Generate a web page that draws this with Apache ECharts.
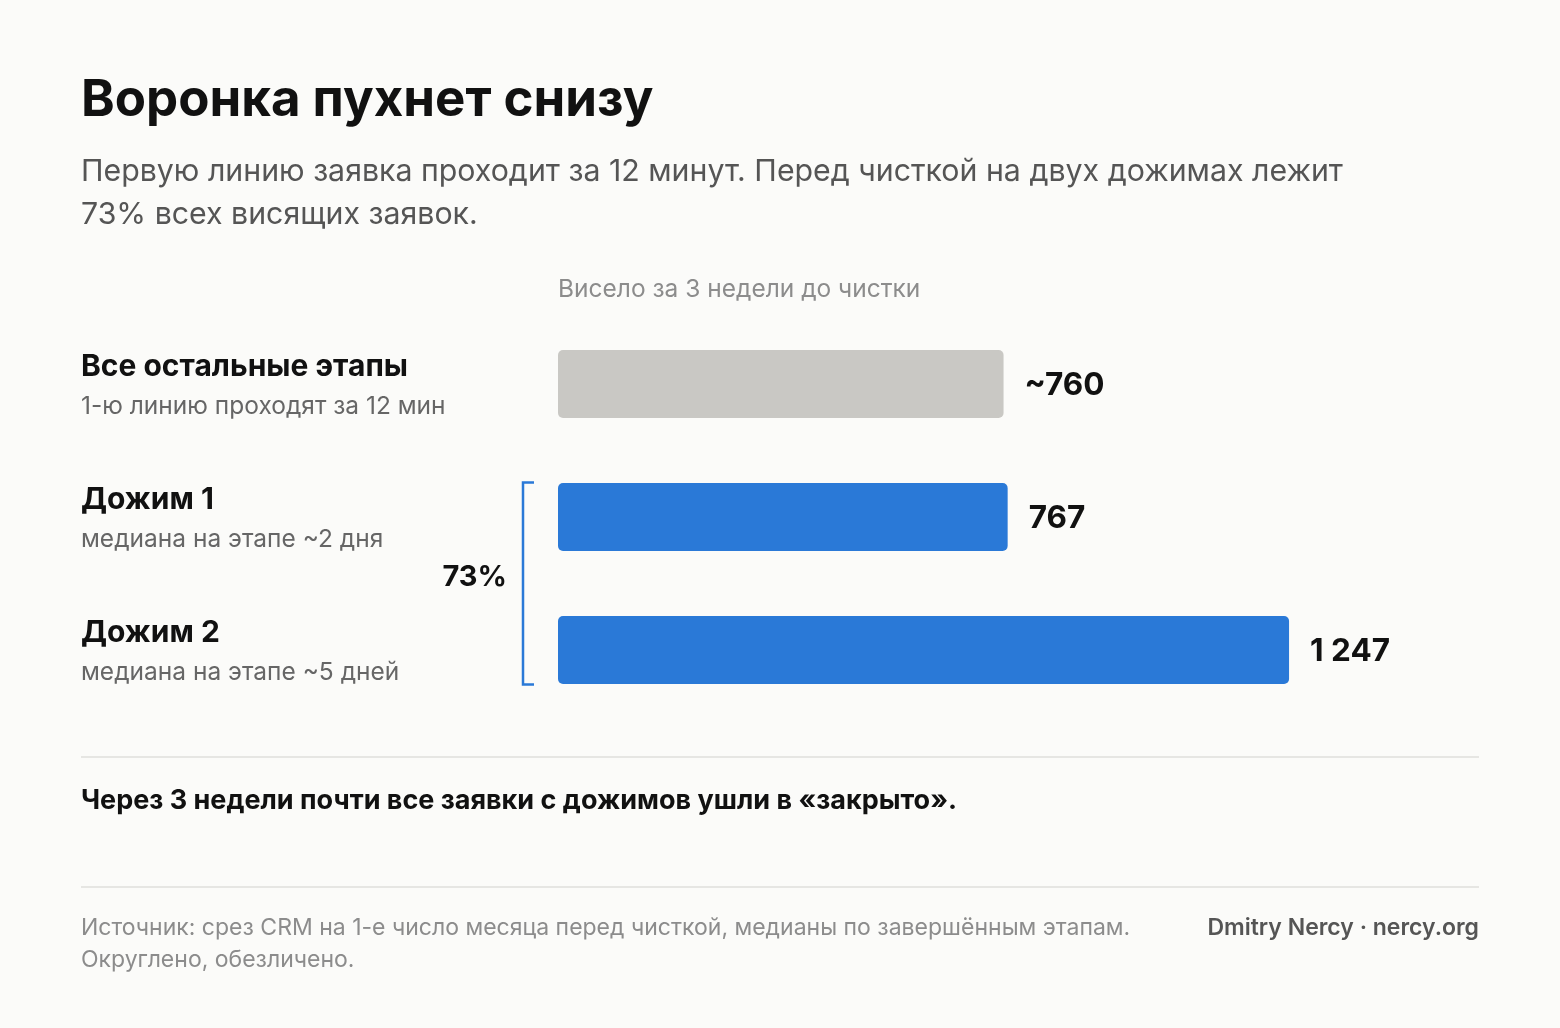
<!DOCTYPE html>
<html>
<head>
<meta charset="utf-8">
<script src="https://cdn.jsdelivr.net/npm/echarts@6/dist/echarts.min.js"></script>
<style>
html,body{margin:0;padding:0;background:#fbfbf9;}
#c{width:1560px;height:1028px;}
</style>
</head>
<body>
<div id="c"></div>
<script>
const categories = ['Все остальные этапы', 'Дожим 1', 'Дожим 2'];
const subLabels = ['1-ю линию проходят за 12 мин', 'медиана на этапе ~2 дня', 'медиана на этапе ~5 дней'];
const values = [760, 767, 1247];
const valueLabels = ['~760', '767', '1 247'];
const barColors = ['#c9c8c4', '#2a79d7', '#2a79d7'];
const bracketShare = '73%';

const FONT = 'Inter, "Noto Sans", sans-serif';
const chart = echarts.init(document.getElementById('c'));

const option = {
  backgroundColor: '#fbfbf9',
  textStyle: { fontFamily: FONT },
  animation: false,
  grid: { left: 558, top: 317.5, height: 399, right: 64 },
  xAxis: { type: 'value', min: 0, max: 1600, show: false },
  yAxis: {
    type: 'category', data: categories, inverse: true,
    axisLine: { show: false }, axisTick: { show: false },
    axisLabel: {
      align: 'left', margin: 477, padding: [5, 0, 0, 0],
      formatter: (v, i) => `{n|${v}}\n{s|${subLabels[i]}}`,
      rich: {
        n: { fontFamily: FONT, fontSize: 30, fontWeight: 700, color: '#111', lineHeight: 40 },
        s: { fontFamily: FONT, fontSize: 24.5, color: '#666', lineHeight: 40 }
      }
    }
  },
  series: [{
    type: 'bar', barWidth: 68,
    data: values.map((v, i) => ({ value: v, itemStyle: { color: barColors[i], borderRadius: 5 } })),
    label: {
      show: true, position: 'right', distance: 21, offset: [0, 2],
      formatter: p => valueLabels[p.dataIndex],
      fontFamily: FONT, fontSize: 31.5, fontWeight: 700, color: '#111'
    }
  }]
};
chart.setOption(option);

const y1 = chart.convertToPixel({ yAxisIndex: 0 }, categories[1]);
const y2 = chart.convertToPixel({ yAxisIndex: 0 }, categories[2]);
const half = 34 + 0.5;
const bx = 523;
const blue = '#2a79d7';

chart.setOption({
  graphic: [
    { type: 'text', x: 81, y: 101, style: { text: 'Воронка пухнет снизу', font: `700 51px ${FONT}`, fill: '#111', verticalAlign: 'middle' } },
    { type: 'text', x: 81, y: 193.5, style: { text: 'Первую линию заявка проходит за 12 минут. Перед чисткой на двух дожимах лежит\n73% всех висящих заявок.', font: `400 30.3px ${FONT}`, fill: '#555', lineHeight: 43, verticalAlign: 'middle' } },
    { type: 'text', x: 558, y: 290, style: { text: 'Висело за 3 недели до чистки', font: `400 24.5px ${FONT}`, fill: '#8c8c8c', verticalAlign: 'middle' } },
    { type: 'polyline', shape: { points: [[bx + 11, y1 - half], [bx, y1 - half], [bx, y2 + half], [bx + 11, y2 + half]] }, style: { stroke: blue, lineWidth: 2.5, fill: null } },
    { type: 'text', x: 507, y: (y1 + y2) / 2 - 6, style: { text: bracketShare, font: `700 29px ${FONT}`, fill: '#111', align: 'right', verticalAlign: 'middle' } },
    { type: 'line', shape: { x1: 81, y1: 757, x2: 1479, y2: 757 }, style: { stroke: '#e6e6e3', lineWidth: 2 } },
    { type: 'text', x: 81, y: 801, style: { text: 'Через 3 недели почти все заявки с дожимов ушли в «закрыто».', font: `700 27px ${FONT}`, fill: '#111', verticalAlign: 'middle' } },
    { type: 'line', shape: { x1: 81, y1: 887, x2: 1479, y2: 887 }, style: { stroke: '#e6e6e3', lineWidth: 2 } },
    { type: 'text', x: 81, y: 944, style: { text: 'Источник: срез CRM на 1-е число месяца перед чисткой, медианы по завершённым этапам.\nОкруглено, обезличено.', font: `400 23px ${FONT}`, fill: '#8c8c8c', lineHeight: 32, verticalAlign: 'middle' } },
    { type: 'text', x: 1479, y: 928, style: { text: 'Dmitry Nercy · nercy.org', font: `600 23px ${FONT}`, fill: '#555', align: 'right', verticalAlign: 'middle' } }
  ]
});
</script>
</body>
</html>
